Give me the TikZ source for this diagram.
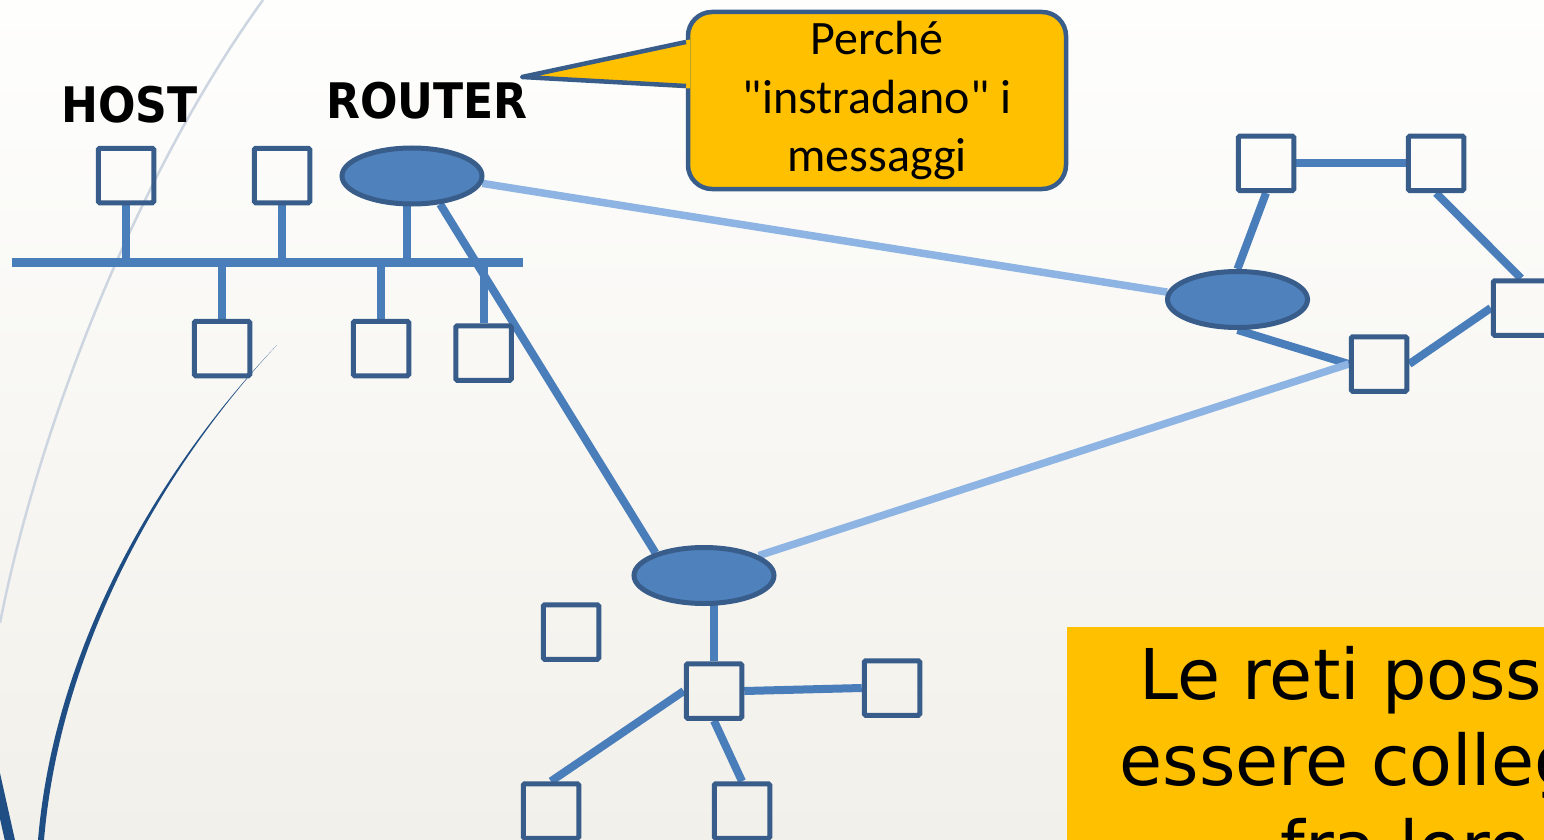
\documentclass[tikz,border=0pt]{standalone}
\usepackage{fontspec}
\usetikzlibrary{shapes.geometric,calc}
\newfontfamily\calloutfont{Carlito}
\newfontfamily\verdfont{DejaVu Sans}
\newfontfamily\labfont{DejaVu Sans}[FakeStretch=0.9]
\definecolor{sqborder}{RGB}{56,93,138}
\definecolor{linkblue}{RGB}{74,126,187}
\definecolor{ellfill}{RGB}{79,129,189}
\definecolor{lightlink}{RGB}{142,180,227}
\definecolor{gold}{RGB}{255,192,0}
\definecolor{bgtop}{RGB}{254,254,253}
\definecolor{bgbot}{RGB}{242,240,234}
\definecolor{curvedark}{RGB}{31,78,132}
\definecolor{curvelight}{RGB}{205,214,224}
\pgfdeclarelayer{bg}
\pgfdeclarelayer{links}
\pgfsetlayers{bg,links,main}
\begin{document}
\begin{tikzpicture}[x=1pt,y=-1pt,
  host/.style={draw=sqborder, line width=5pt, rectangle, rounded corners=1.5pt, minimum width=55.5pt, minimum height=54.5pt, inner sep=0pt},
  router/.style={ellipse, draw=sqborder, fill=ellfill, line width=5pt, minimum width=140pt, minimum height=56pt, inner sep=0pt},
  link/.style={draw=linkblue, line width=8pt},
  farlink/.style={draw=lightlink, line width=7.5pt},
  bus/.style={draw=linkblue, line width=9pt},
  lab/.style={font=\labfont\bfseries\fontsize{49pt}{58pt}\selectfont, text=black, inner sep=0pt, anchor=base},
  callbox/.style={rectangle, rounded corners=24pt, draw=sqborder, fill=gold, line width=4.5pt, minimum width=378pt, minimum height=177pt, align=center, inner sep=0pt, font=\calloutfont\fontsize{48pt}{58.5pt}\selectfont},
  notebox/.style={rectangle, fill=gold, anchor=north, minimum width=678pt, inner xsep=0pt, inner ysep=19pt, align=center, font=\verdfont\fontsize{70pt}{86pt}\selectfont}
]
\useasboundingbox (0,0) rectangle (1544,840);
\clip (0,0) rectangle (1544,840);
\begin{pgfonlayer}{bg}
  \clip (0,0) rectangle (1544,840);
  \shade[top color=bgtop, bottom color=bgbot] (0,0) rectangle (1544,840);
  \draw[curvelight, line width=2.5pt] (263,0) .. controls (140,170) and (40,420) .. (0,623);
  \fill[curvedark] (277,345) .. controls (160,470) and (60,650) .. (44,840) -- (38,840) .. controls (54,650) and (156,472) .. (277,345) -- cycle;
  \draw[curvedark, line width=10pt] (-9.4,754) -- (12.1,850);
\end{pgfonlayer}

% hosts and routers
\node[host] (H1) at (126,175.5) {};
\node[host] (H2) at (282,175.5) {};
\node[host] (B1) at (222,348.5) {};
\node[host] (B2) at (381,348.5) {};
\node[host] (B3) at (483.5,353) {};
\node[router] (RA) at (412,176) {};
\node[router] (RB) at (1237.5,299.5) {};
\node[router] (RC) at (704,575.5) {};
\node[host] (R1) at (1266,163.3) {};
\node[host] (R2) at (1436,163.3) {};
\node[host] (R3) at (1521,308) {};
\node[host] (R4) at (1379,364) {};
\node[host] (S0) at (571,632) {};
\node[host] (S1) at (714,691) {};
\node[host] (S2) at (892,688) {};
\node[host] (S3) at (551,811) {};
\node[host] (S4) at (742,811) {};

% labels
\node[lab] (hostlab) at (129.5,123) {HOST};
\node[lab] (routerlab) at (427,119) {ROUTER};

% callout
\node[callbox] (co) at (877,100.5) {Perché\\"instradano" i\\messaggi};
\coordinate (tip) at (522,77);
\fill[gold] (690,39.5) -- (tip) -- (690,88.5) -- cycle;
\draw[sqborder, line width=4.5pt, line join=round] (686,42) -- (tip) -- (686,86);

% note box
\node[notebox] (note) at (1406,627) {Le reti possono\\essere collegate\\fra loro};

\begin{pgfonlayer}{links}
  \clip (0,0) rectangle (1544,840);
  \coordinate (busL) at (12,262);
  \coordinate (busR) at (523,262);
  \draw[bus] (busL) -- (busR);
  \draw[link] (H1.south) -- (H1.south |- busL);
  \draw[link] (H2.south) -- (H2.south |- busL);
  \draw[link] ([xshift=-5pt]RA.center) -- ([xshift=-5pt]RA.center |- busL);
  \draw[link] (B1.north) -- (B1.north |- busL);
  \draw[link] (B2.north) -- (B2.north |- busL);
  \draw[link] (B3.north) -- (B3.north |- busL);
  \draw[link] (RA.-45) -- (RC.155);
  \draw[link] (RB.north) -- (R1.south);
  \draw[link] (R1.east) -- (R2.west);
  \draw[link] (R2.south) -- (R3.north);
  \draw[link] (R3.west) -- (R4.east);
  \draw[link] (RB.south) -- (R4.west);
  \draw[link] (S1.north) -- (S1.north |- RC.center);
  \draw[link] (S1.west) -- (S3.north);
  \draw[link] (S1.south) -- (S4.north);
  \draw[link] (S1.east) -- (S2.west);
  \draw[farlink] (RA.-6) -- (RB.174);
  \draw[farlink] (R4.west) -- (RC.20);
\end{pgfonlayer}
\end{tikzpicture}
\end{document}
